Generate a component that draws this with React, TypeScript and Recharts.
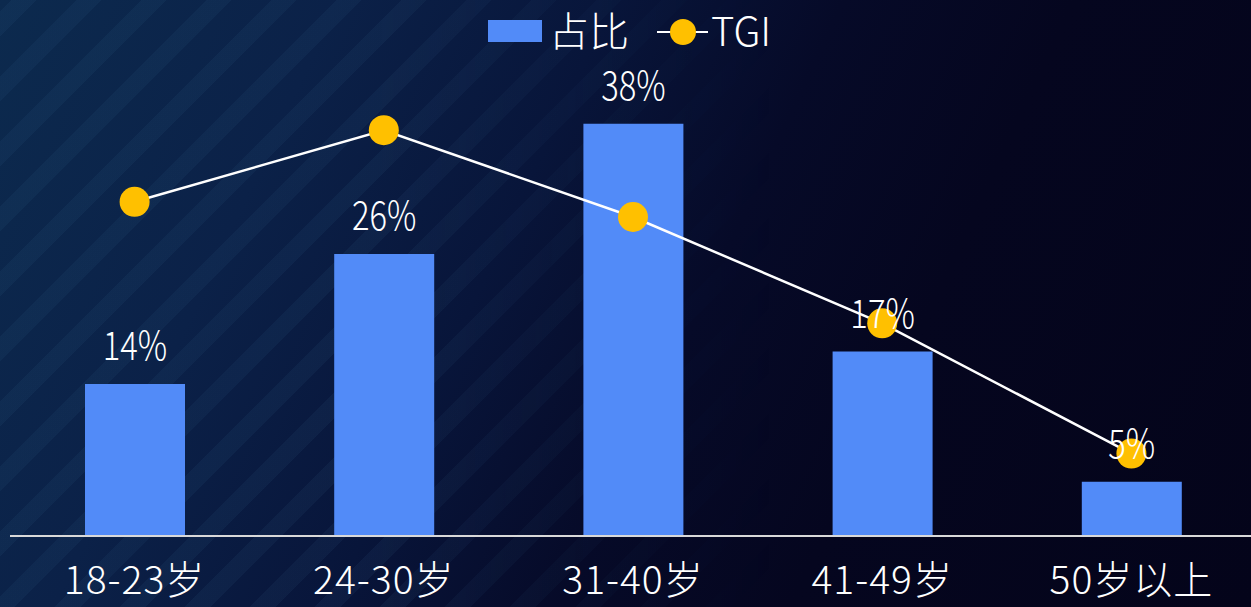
import React from "react";
import {
  ComposedChart,
  Bar,
  Line,
  XAxis,
  YAxis,
  LabelList,
} from "recharts";

const categories = ["18-23岁", "24-30岁", "31-40岁", "41-49岁", "50岁以上"];
const shareValues = [14, 26, 38, 17, 5];
const tgiValues = [154, 187, 147, 98, 38];
const seriesNames = ["占比", "TGI"];

const BAR_COLOR = "#528BF8";
const DOT_COLOR = "#FFC000";
const FONT = "'Noto Sans CJK SC', 'Noto Sans', sans-serif";

const data = categories.map((name, i) => ({
  name,
  share: shareValues[i],
  tgi: tgiValues[i],
}));

const AxisTick = (props: any) => {
  const { x, y, payload } = props;
  return (
    <text
      x={x}
      y={y + 58}
      textAnchor="middle"
      fill="#ffffff"
      fontSize={39}
      fontWeight={300}
      fontFamily={FONT}
      letterSpacing={1}
    >
      {payload.value}
    </text>
  );
};

const BarLabel = (props: any) => {
  const { x, y, width, value } = props;
  const cx = x + width / 2;
  return (
    <text
      x={cx}
      y={y - 24}
      textAnchor="middle"
      fill="#ffffff"
      fontSize={40}
      fontWeight={300}
      fontFamily={FONT}
      transform={`translate(${cx} 0) scale(0.82 1) translate(${-cx} 0)`}
    >
      {value}%
    </text>
  );
};

function LegendBox() {
  return (
    <svg
      width={1251}
      height={70}
      style={{ position: "absolute", left: 0, top: 0, pointerEvents: "none" }}
    >
      <rect x={488} y={20} width={54} height={22} fill={BAR_COLOR} />
      <text x={549} y={46} fill="#fff" fontSize={40} fontWeight={300} fontFamily={FONT}>
        {seriesNames[0]}
      </text>
      <line x1={657} y1={32} x2={708} y2={32} stroke="#fff" strokeWidth={2} />
      <circle cx={683} cy={32} r={13} fill={DOT_COLOR} />
      <text x={711} y={46} fill="#fff" fontSize={40} fontWeight={300} fontFamily={FONT}>
        {seriesNames[1]}
      </text>
    </svg>
  );
}

export default function App() {
  return (
    <div
      style={{
        position: "fixed",
        left: 0,
        top: 0,
        width: 1251,
        height: 607,
        overflow: "hidden",
        background:
          "linear-gradient(115deg, #0c2a4e 0%, #0b2148 22%, #08153a 40%, #060a28 55%, #05061f 70%, #04041a 100%)",
      }}
    >
      <div
        style={{
          position: "absolute",
          inset: 0,
          background:
            "repeating-linear-gradient(-45deg, rgba(60,110,150,0.10) 0px, rgba(60,110,150,0.10) 18px, rgba(0,0,0,0) 18px, rgba(0,0,0,0) 46px)",
          maskImage: "linear-gradient(90deg, #000 0%, #000 30%, transparent 62%)",
          WebkitMaskImage:
            "linear-gradient(90deg, #000 0%, #000 30%, transparent 62%)",
        }}
      />
      <ComposedChart
        width={1256}
        height={607}
        data={data}
        margin={{ top: 102, right: 0, bottom: 41, left: 10 }}
        style={{ position: "absolute", left: 0, top: 0 }}
      >
        <XAxis
          dataKey="name"
          height={30}
          axisLine={{ stroke: "#d9d9d9", strokeWidth: 2 }}
          tickLine={false}
          tickSize={0}
          tickMargin={0}
          tick={<AxisTick />}
          interval={0}
        />
        <YAxis yAxisId="left" hide domain={[0, 40]} />
        <YAxis yAxisId="right" orientation="right" hide domain={[0, 200]} />
        <Line
          yAxisId="right"
          dataKey="tgi"
          name={seriesNames[1]}
          stroke="#ffffff"
          strokeWidth={2.5}
          dot={{ r: 15, fill: DOT_COLOR, stroke: "none" }}
          activeDot={false}
          isAnimationActive={false}
        />
        <Bar
          yAxisId="left"
          dataKey="share"
          name={seriesNames[0]}
          fill={BAR_COLOR}
          barSize={100}
          isAnimationActive={false}
        >
          <LabelList dataKey="share" content={<BarLabel />} />
        </Bar>
      </ComposedChart>
      <LegendBox />
    </div>
  );
}
